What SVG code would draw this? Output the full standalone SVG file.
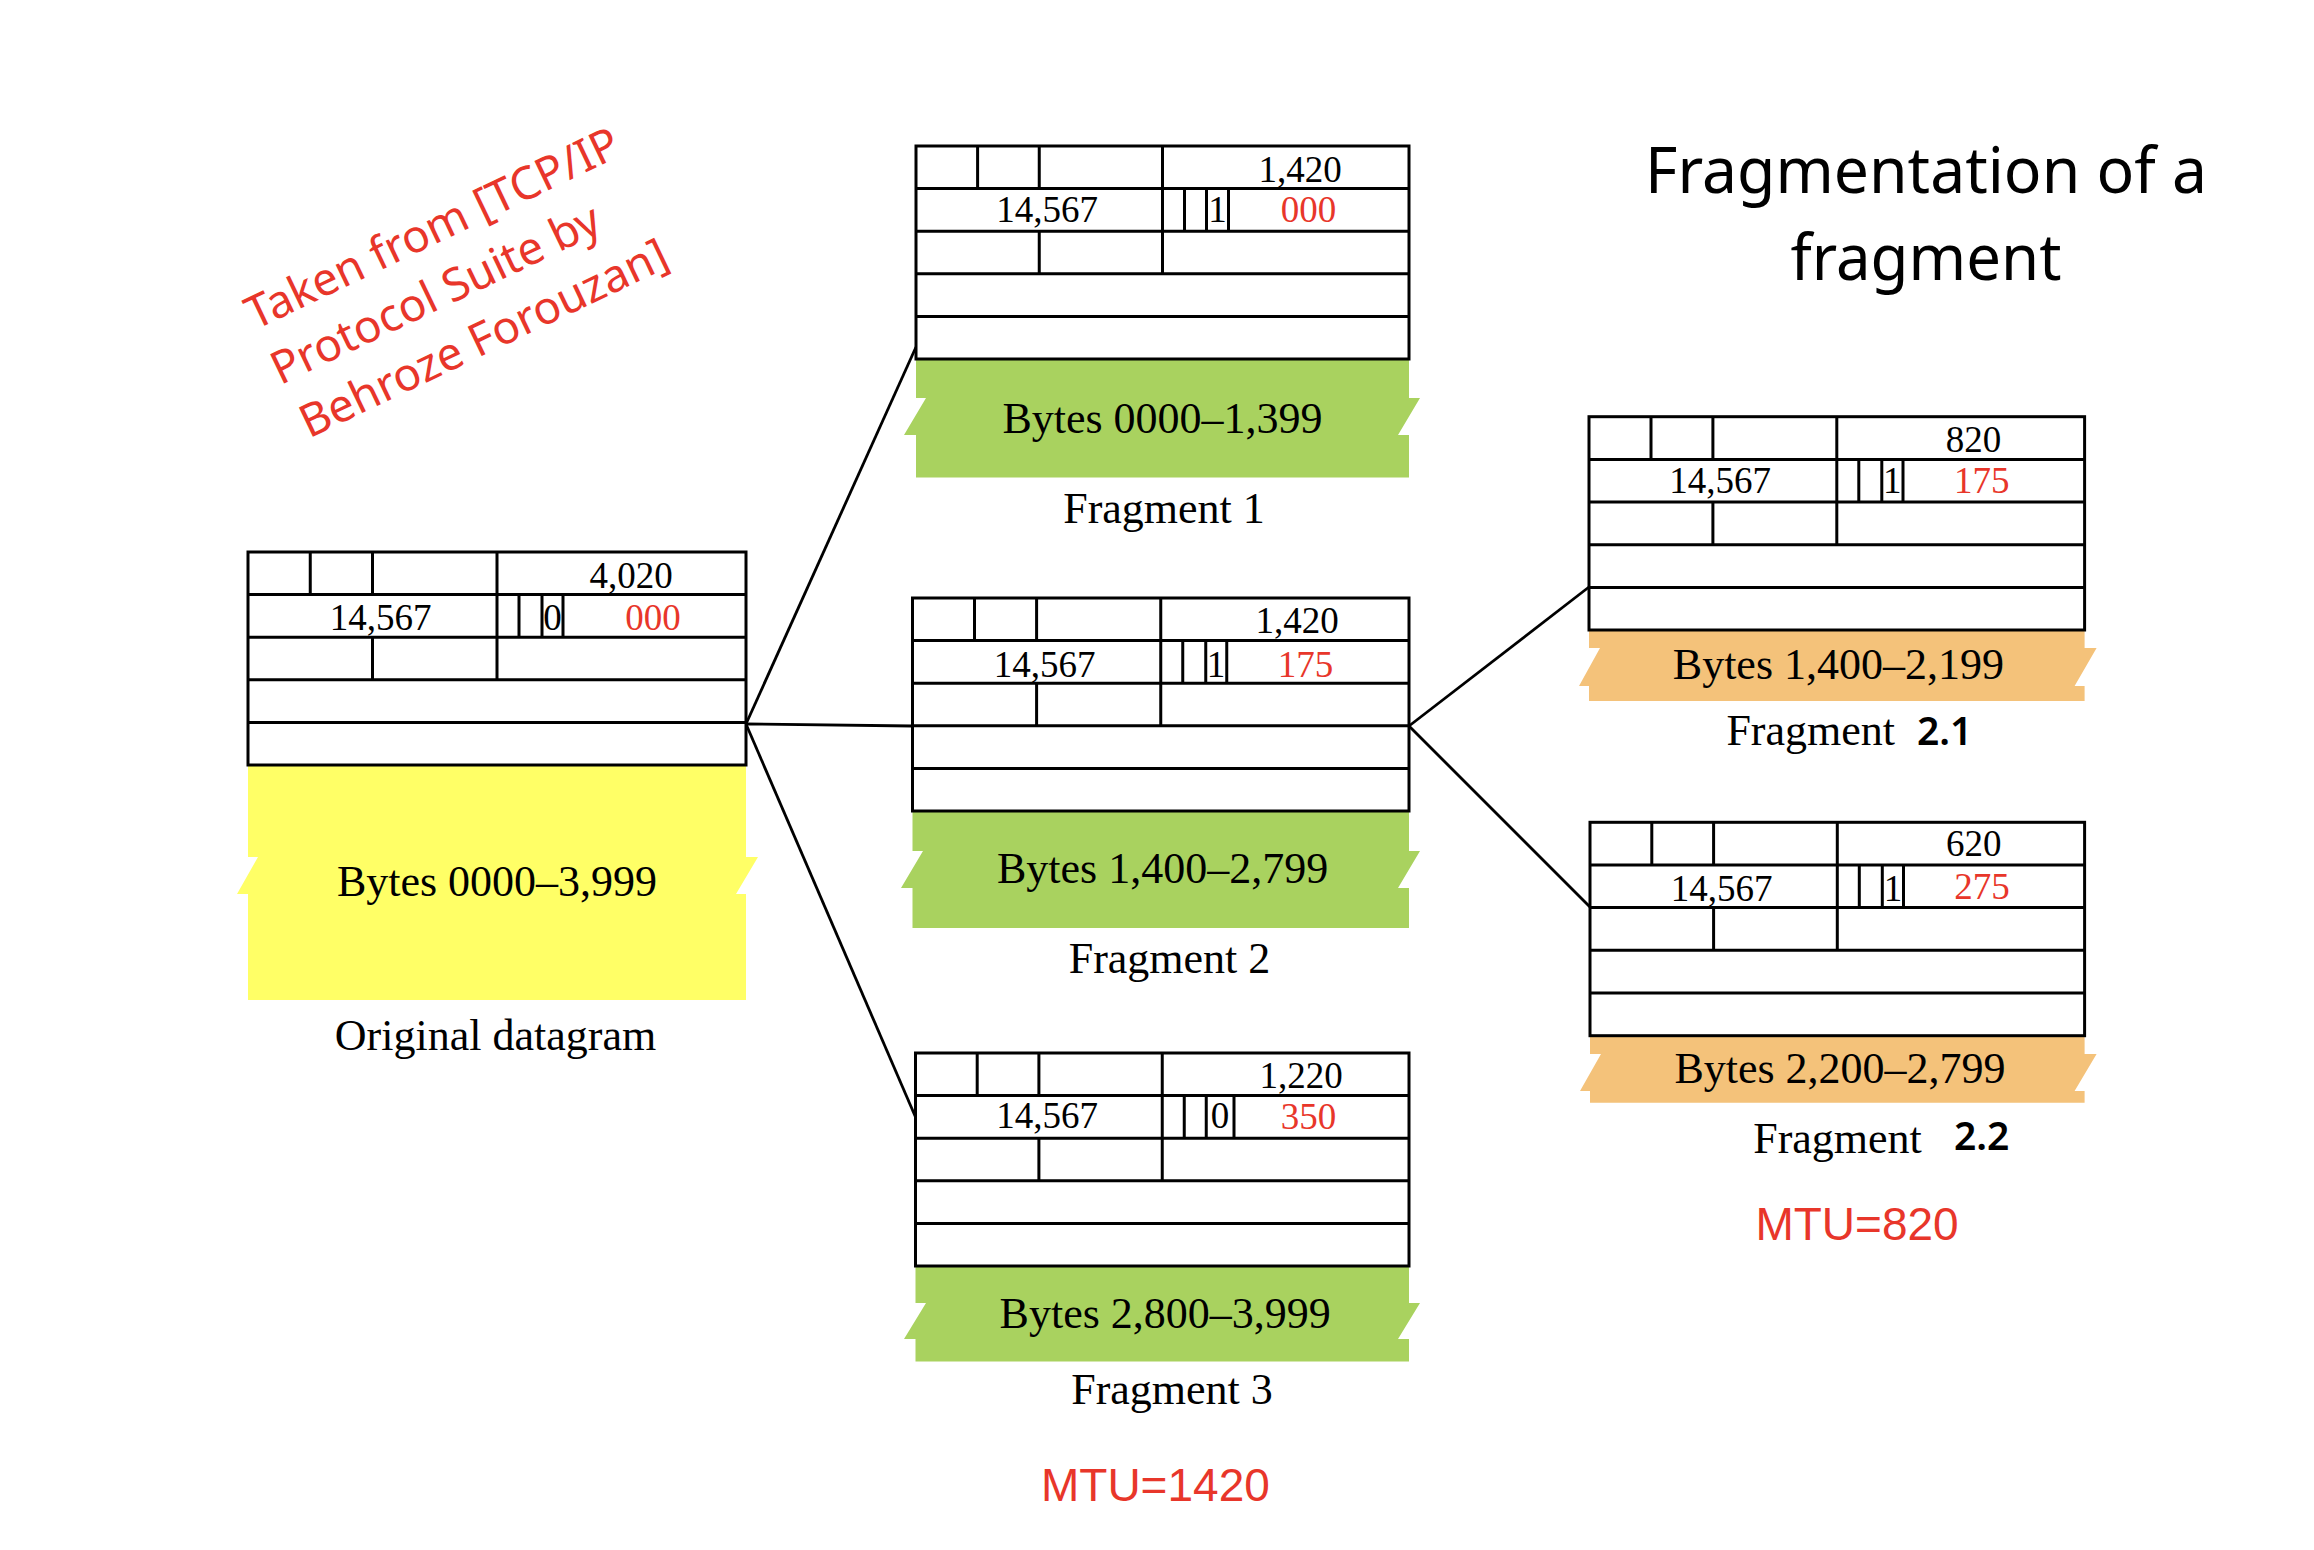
<svg xmlns="http://www.w3.org/2000/svg" width="2314" height="1550" viewBox="0 0 2314 1550">
<style>
.bg{fill:#fff}
.hdr{fill:#fff;stroke:#000;stroke-width:3}
.ln{fill:none;stroke:#000;stroke-width:3}
.con{fill:none;stroke:#000;stroke-width:2.8}
.yel{fill:#ffff66}
.grn{fill:#a9d25f}
.org{fill:#f4c27a}
.tm{font-family:'Liberation Serif','Times New Roman',serif;fill:#000}
.h{font-size:37px}
.b{font-size:44px}
.c{text-anchor:middle}
.red{fill:#e8362a}
.sans{font-family:'Noto Sans','Open Sans','DejaVu Sans',sans-serif}
.num{font-family:'Noto Sans','Open Sans','DejaVu Sans',sans-serif;font-size:39px;font-weight:600;fill:#000}
.mtu{font-family:'Liberation Sans',Arial,sans-serif;font-size:46px;fill:#e8362a;text-anchor:middle}
</style>
<rect class="bg" x="0" y="0" width="2314" height="1550"/>

<g id="watermark" transform="translate(255,330.3) rotate(-25.5)" class="sans" font-size="45.5" fill="#e8362a">
<text x="0" y="0">Taken from [TCP/IP</text>
<text x="-1" y="60.6">Protocol Suite by</text>
<text x="2" y="121">Behroze Forouzan]</text>
</g>

<g id="title" class="sans" font-size="64" fill="#000">
<text x="1926" y="193" text-anchor="middle" textLength="562" lengthAdjust="spacingAndGlyphs">Fragmentation of a</text>
<text x="1926" y="280" text-anchor="middle" textLength="271" lengthAdjust="spacingAndGlyphs">fragment</text>
</g>

<g id="connectors">
<path class="con" d="M746,724L916,347"/>
<path class="con" d="M746,724L912.5,726"/>
<path class="con" d="M746,724L915.5,1117"/>
<path class="con" d="M1409,726L1589,587"/>
<path class="con" d="M1409,726L1590,907"/>
</g>

<g id="original">
<polygon class="yel" points="248,765 746,765 746,857 758,857 736,894 746,894 746,1000 248,1000 248,894 237,894 258,857 248,857"/>
<rect class="hdr" x="248" y="552" width="498" height="213"/>
<path class="ln" d="M248,594.6H746M248,637.2H746M248,679.8H746M248,722.4H746M310.25,552V594.6M372.5,552V594.6M497,552V679.8M519,594.6V637.2M542,594.6V637.2M563,594.6V637.2M372.5,637.2V679.8"/>
<text class="tm h c" x="631" y="587.5">4,020</text>
<text class="tm h c" x="380.5" y="630">14,567</text>
<text class="tm h c" x="552.5" y="630">0</text>
<text class="tm h c red" x="653" y="630">000</text>
<text class="tm b c" x="497" y="896">Bytes 0000–3,999</text>
<text class="tm b c" x="495.5" y="1050">Original datagram</text>
</g>

<g id="fragment1">
<polygon class="grn" points="916,359 1409,359 1409,398 1420,398 1398,435 1409,435 1409,477.5 916,477.5 916,435 904,435 926,398 916,398"/>
<rect class="hdr" x="916" y="146" width="493" height="213"/>
<path class="ln" d="M916,188.6H1409M916,231.2H1409M916,273.8H1409M916,316.4H1409M977.6,146V188.6M1039.25,146V188.6M1162.5,146V273.8M1184.5,188.6V231.2M1206.5,188.6V231.2M1228.5,188.6V231.2M1039.25,231.2V273.8"/>
<text class="tm h c" x="1300" y="181.5">1,420</text>
<text class="tm h c" x="1047" y="222">14,567</text>
<text class="tm h c" x="1217.5" y="222">1</text>
<text class="tm h c red" x="1308.6" y="222">000</text>
<text class="tm b c" x="1162.5" y="433">Bytes 0000–1,399</text>
<text class="tm b c" x="1164" y="523">Fragment 1</text>
</g>

<g id="fragment2">
<polygon class="grn" points="912.5,811 1409,811 1409,851 1420,851 1398,888 1409,888 1409,928 912.5,928 912.5,888 901,888 923,851 912.5,851"/>
<rect class="hdr" x="912.5" y="598" width="496.5" height="213"/>
<path class="ln" d="M912.5,640.6H1409M912.5,683.2H1409M912.5,725.8H1409M912.5,768.4H1409M974.5,598V640.6M1036.6,598V640.6M1160.75,598V725.8M1182.75,640.6V683.2M1205.75,640.6V683.2M1226.75,640.6V683.2M1036.6,683.2V725.8"/>
<text class="tm h c" x="1297" y="633.3">1,420</text>
<text class="tm h c" x="1044.5" y="676.7">14,567</text>
<text class="tm h c" x="1216" y="676.7">1</text>
<text class="tm h c red" x="1305.5" y="676.7">175</text>
<text class="tm b c" x="1162.6" y="883">Bytes 1,400–2,799</text>
<text class="tm b c" x="1169.5" y="972.7">Fragment 2</text>
</g>

<g id="fragment3">
<polygon class="grn" points="915.5,1266 1409,1266 1409,1303 1420,1303 1398,1339 1409,1339 1409,1361.5 915.5,1361.5 915.5,1339 904,1339 926,1303 915.5,1303"/>
<rect class="hdr" x="915.5" y="1053" width="493.5" height="213"/>
<path class="ln" d="M915.5,1095.6H1409M915.5,1138.2H1409M915.5,1180.8H1409M915.5,1223.4H1409M977.2,1053V1095.6M1038.9,1053V1095.6M1162.25,1053V1180.8M1184.25,1095.6V1138.2M1206.25,1095.6V1138.2M1234,1095.6V1138.2M1038.9,1138.2V1180.8"/>
<text class="tm h c" x="1301" y="1088">1,220</text>
<text class="tm h c" x="1047" y="1128">14,567</text>
<text class="tm h c" x="1220" y="1128">0</text>
<text class="tm h c red" x="1308.6" y="1129">350</text>
<text class="tm b c" x="1165.2" y="1327.7">Bytes 2,800–3,999</text>
<text class="tm b c" x="1172" y="1404">Fragment 3</text>
<text class="mtu" x="1155.4" y="1500.7">MTU=1420</text>
</g>

<g id="fragment2_1">
<polygon class="org" points="1589,630 2084.6,630 2084.6,648 2096.6,648 2074.6,686 2084.6,686 2084.6,701 1589,701 1589,686 1579,686 1600,648 1589,648"/>
<rect class="hdr" x="1589" y="416.7" width="495.6" height="213.3"/>
<path class="ln" d="M1589,459.4H2084.6M1589,502.1H2084.6M1589,544.8H2084.6M1589,587.4H2084.6M1651,416.7V459.4M1712.9,416.7V459.4M1836.8,416.7V544.8M1858.8,459.4V502.1M1881.8,459.4V502.1M1903,459.4V502.1M1712.9,502.1V544.8"/>
<text class="tm h c" x="1973.4" y="451.7">820</text>
<text class="tm h c" x="1720.2" y="493.3">14,567</text>
<text class="tm h c" x="1892.3" y="493.3">1</text>
<text class="tm h c red" x="1981.8" y="493.3">175</text>
<text class="tm b c" x="1838.4" y="679.3">Bytes 1,400–2,199</text>
<text y="745"><tspan class="tm b" x="1726.4">Fragment</tspan><tspan class="num" x="1917">2.1</tspan></text>
</g>

<g id="fragment2_2">
<polygon class="org" points="1590,1035.7 2084.6,1035.7 2084.6,1054 2096.6,1054 2074.6,1091 2084.6,1091 2084.6,1102.7 1590,1102.7 1590,1091 1580,1091 1601,1054 1590,1054"/>
<rect class="hdr" x="1590" y="822.3" width="494.6" height="213.4"/>
<path class="ln" d="M1590,865H2084.6M1590,907.6H2084.6M1590,950.3H2084.6M1590,993H2084.6M1651.8,822.3V865M1713.6,822.3V865M1837.3,822.3V950.3M1859.3,865V907.6M1882.3,865V907.6M1903.5,865V907.6M1713.6,907.6V950.3"/>
<text class="tm h c" x="1973.75" y="856">620</text>
<text class="tm h c" x="1721.6" y="900.5">14,567</text>
<text class="tm h c" x="1892.9" y="900.5">1</text>
<text class="tm h c red" x="1982" y="899">275</text>
<text class="tm b c" x="1840" y="1083.3">Bytes 2,200–2,799</text>
<text y="1152.7"><tspan class="tm b" x="1753.2">Fragment</tspan><tspan class="num" x="1954" y="1150">2.2</tspan></text>
<text class="mtu" x="1857" y="1240">MTU=820</text>
</g>
</svg>
